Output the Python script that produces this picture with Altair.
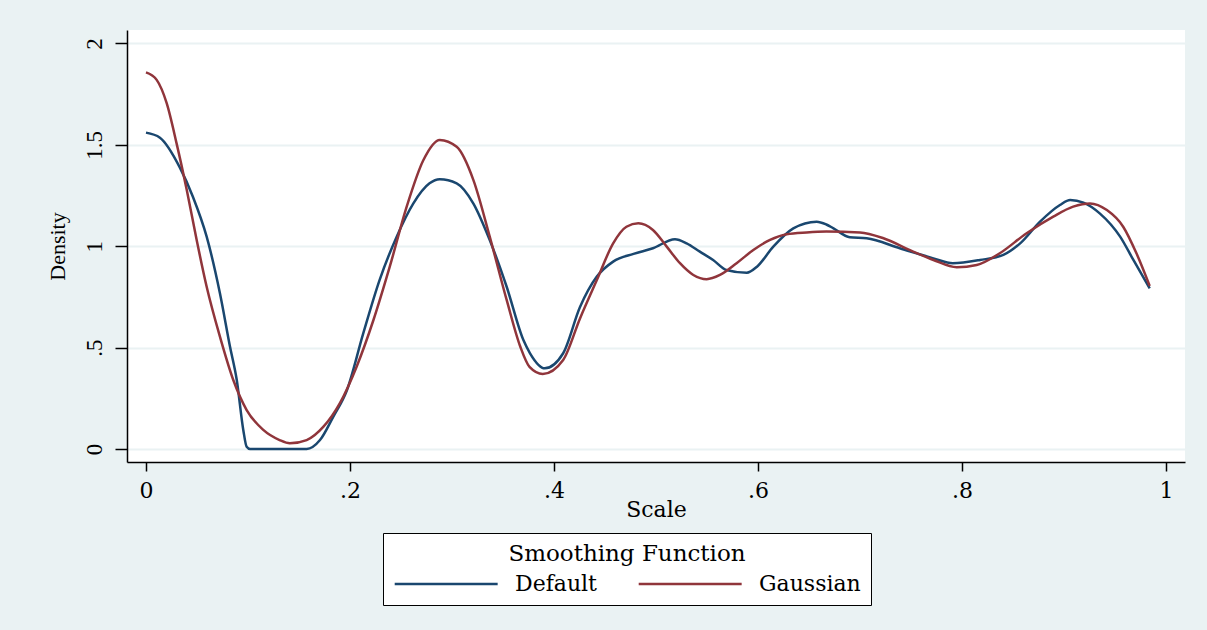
import altair as alt
import pandas as pd

# ---- data ----
x_default = [0, 0.0137, 0.033, 0.046, 0.0595, 0.0725, 0.0824, 0.089, 0.0954, 0.0987, 0.102, 0.13,
             0.1575, 0.1706, 0.1837, 0.197, 0.213, 0.229, 0.2458, 0.262, 0.278, 0.288, 0.3046, 0.321,
             0.337, 0.3536, 0.37, 0.3765, 0.391, 0.409, 0.4255, 0.442, 0.458, 0.478, 0.497, 0.5186,
             0.530, 0.543, 0.556, 0.569, 0.589, 0.599, 0.615, 0.6346, 0.6575, 0.667, 0.674, 0.690,
             0.7065, 0.739, 0.772, 0.791, 0.8176, 0.8405, 0.857, 0.8765, 0.896, 0.906, 0.919, 0.935,
             0.955, 0.968, 0.984]
y_default = [1.56, 1.535, 1.39, 1.244, 1.047, 0.768, 0.504, 0.34, 0.094, 0.011, 0.0, 0.0,
             0.0, 0.044, 0.16, 0.29, 0.57, 0.833, 1.047, 1.21, 1.31, 1.33, 1.31, 1.21,
             1.03, 0.80, 0.537, 0.472, 0.398, 0.472, 0.70, 0.85, 0.924, 0.962, 0.99, 1.034,
             1.014, 0.973, 0.932, 0.883, 0.869, 0.899, 0.998, 1.088, 1.121, 1.107, 1.088, 1.044,
             1.039, 0.99, 0.94, 0.916, 0.932, 0.957, 1.014, 1.121, 1.203, 1.228, 1.215, 1.162,
             1.047, 0.932, 0.792]

x_gauss = [0, 0.0105, 0.0203, 0.030, 0.040, 0.0497, 0.0595, 0.0725, 0.0856, 0.0987, 0.115, 0.131,
           0.141, 0.1575, 0.174, 0.190, 0.2065, 0.223, 0.239, 0.2556, 0.272, 0.288, 0.3046, 0.321,
           0.337, 0.3536, 0.367, 0.376, 0.389, 0.409, 0.4255, 0.442, 0.458, 0.471, 0.4827, 0.497,
           0.5105, 0.5235, 0.5366, 0.5497, 0.5627, 0.579, 0.5954, 0.6118, 0.628, 0.6477, 0.667, 0.70,
           0.723, 0.749, 0.772, 0.7948, 0.8144, 0.837, 0.863, 0.8895, 0.909, 0.9255, 0.942, 0.958,
           0.971, 0.984]
y_gauss = [1.857, 1.82, 1.705, 1.507, 1.277, 1.03, 0.80, 0.554, 0.34, 0.192, 0.094, 0.044,
           0.028, 0.044, 0.11, 0.225, 0.406, 0.636, 0.899, 1.195, 1.425, 1.524, 1.49, 1.326,
           1.047, 0.735, 0.504, 0.405, 0.37, 0.439, 0.644, 0.833, 1.014, 1.096, 1.113, 1.08,
           0.998, 0.916, 0.858, 0.837, 0.858, 0.916, 0.981, 1.031, 1.059, 1.068, 1.072, 1.068,
           1.039, 0.981, 0.932, 0.896, 0.907, 0.965, 1.063, 1.146, 1.195, 1.211, 1.178, 1.096,
           0.965, 0.804]

series_names = ["Default", "Gaussian"]
series_colors = ["#1A476F", "#90353B"]
x_ticks = [0, 0.2, 0.4, 0.6, 0.8, 1]
y_ticks = [0, 0.5, 1, 1.5, 2]

df = pd.concat([
    pd.DataFrame({"x": x_default, "y": y_default, "s": series_names[0]}),
    pd.DataFrame({"x": x_gauss, "y": y_gauss, "s": series_names[1]}),
], ignore_index=True)

lab_expr = ("datum.value > 0 && datum.value < 1 ? slice(toString(datum.value), 1) "
            ": toString(datum.value)")

chart = alt.Chart(df).mark_line(strokeWidth=2.5, interpolate="monotone").encode(
    x=alt.X("x:Q", scale=alt.Scale(domain=[-0.0186, 1.0186], nice=False, zero=False),
            axis=alt.Axis(values=x_ticks, labelExpr=lab_expr, grid=False, tickSize=9,
                          tickColor="black", tickWidth=1.5, domainColor="black", domainWidth=1.5,
                          labelFont="DejaVu Serif", labelFontSize=22, labelColor="black",
                          labelBaseline="alphabetic", labelPadding=26, labelFlush=False,
                          title="Scale", titleFont="DejaVu Serif", titleFontSize=22,
                          titleFontWeight="normal", titleColor="black", titleBaseline="alphabetic",
                          titleY=54, titleX=529)),
    y=alt.Y("y:Q", scale=alt.Scale(domain=[-0.0641, 2.066], nice=False, zero=False),
            axis=alt.Axis(values=y_ticks, labelExpr=lab_expr, grid=True, gridColor="#EAF2F3",
                          gridWidth=2, tickSize=12, tickColor="black", tickWidth=1.5,
                          domainColor="black", domainWidth=1.5,
                          labelFont="Liberation Serif", labelFontSize=23, labelColor="black",
                          labelAngle=270, labelAlign="center", labelBaseline="alphabetic",
                          labelPadding=14, labelFlush=False,
                          title="Density", titleFont="Liberation Serif", titleFontSize=22,
                          titleFontWeight="normal", titleColor="black", titleAngle=270,
                          titleBaseline="alphabetic", titleX=-63, titleY=216)),
    color=alt.Color("s:N", scale=alt.Scale(domain=series_names, range=series_colors),
                    legend=alt.Legend(title="Smoothing Function", orient="none",
                                      legendX=256, legendY=503, direction="horizontal",
                                      fillColor="white", strokeColor="black", padding=10,
                                      titleFont="DejaVu Serif", titleFontSize=23,
                                      titleFontWeight="normal", titleColor="black",
                                      titleAnchor="middle", titlePadding=6, titleLimit=500,
                                      labelFont="DejaVu Serif", labelFontSize=22,
                                      labelColor="black", labelOffset=98, labelLimit=300,
                                      columnPadding=36,
                                      symbolType="M-1,0H9", symbolSize=424,
                                      symbolStrokeWidth=2.5)),
).properties(
    width=1058, height=432,
    autosize=alt.AutoSizeParams(type="none"),
    padding={"left": 127, "top": 30, "right": 22, "bottom": 168},
    background="#EAF2F3",
).configure_view(fill="white", strokeWidth=0)

chart.save("out.html", embed_options={"renderer": "svg", "actions": False})
